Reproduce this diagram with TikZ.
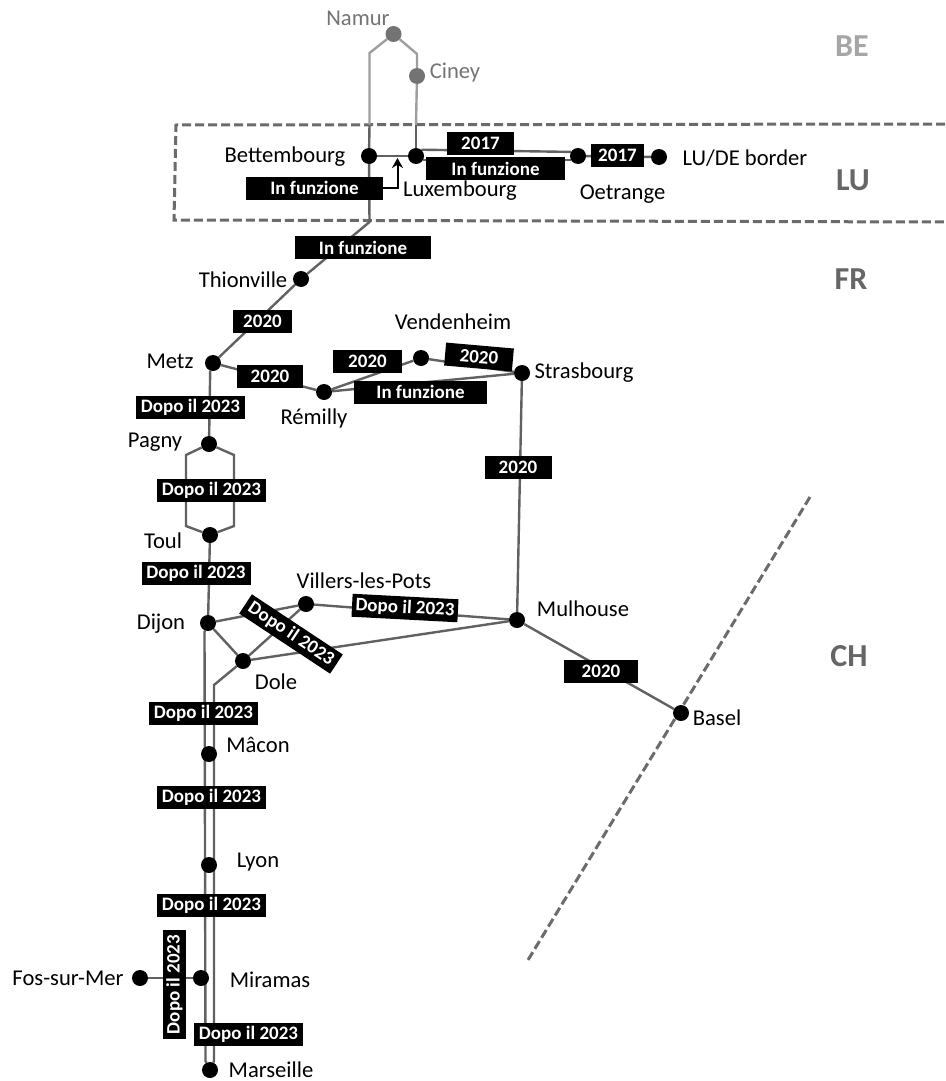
\documentclass[tikz,border=0pt]{standalone}
\usepackage{fontspec}
\setmainfont{Carlito}
\usetikzlibrary{arrows.meta,backgrounds}
\tikzset{
  stop/.style={circle,fill=black,inner sep=0pt,minimum size=16pt},
  stopbe/.style={circle,fill=black!55,inner sep=0pt,minimum size=16pt},
  track/.style={draw=black!62,line width=2.4pt},
  trackbe/.style={draw=black!38,line width=2.4pt},
  border/.style={draw=black!58,line width=3pt,dash pattern=on 9pt off 4pt},
  tag/.style={fill=black,text=white,font=\fontsize{19}{21}\selectfont\bfseries,inner sep=0pt,minimum height=23pt},
  tagdopo/.style={tag,minimum width=109pt},
  place/.style={font=\fontsize{22.6}{24}\selectfont,inner sep=0pt,yshift=-1.5pt},
  placebe/.style={place,text=black!55},
  country/.style={font=\fontsize{32}{34}\selectfont\bfseries,text=black!60,inner sep=0pt}
}
\begin{document}
\begin{tikzpicture}[x=1pt,y=-1pt]
\useasboundingbox (0,0) rectangle (945,1081);
% stops
\node[stopbe] (namur) at (393.5,34) {};
\node[stopbe] (ciney) at (417,76) {};
\node[stop] (bett) at (369,156) {};
\node[stop] (luxe) at (416,156) {};
\node[stop] (oetr) at (578,156) {};
\node[stop] (lude) at (659,157) {};
\node[stop] (thio) at (301,279) {};
\node[stop] (metz) at (213,363) {};
\node[stop] (remi) at (324,392) {};
\node[stop] (vend) at (421,358) {};
\node[stop] (stra) at (522,373) {};
\node[stop] (pagn) at (209,444) {};
\node[stop] (toul) at (210,535) {};
\node[stop] (dijo) at (208,623) {};
\node[stop] (vill) at (306,604) {};
\node[stop] (dole) at (243,661) {};
\node[stop] (mulh) at (517,620) {};
\node[stop] (base) at (681,713) {};
\node[stop] (maco) at (209,754) {};
\node[stop] (lyon) at (209,865) {};
\node[stop] (mira) at (201,978) {};
\node[stop] (fosm) at (140,978) {};
\node[stop] (mars) at (210,1070) {};
% bends of the lines
\coordinate (nl) at (369.5,53);
\coordinate (nr) at (417,54);
\coordinate (bl) at (369.5,125);
\coordinate (br) at (416,125);
\coordinate (bs) at (369.5,222);
\coordinate (pl) at (186,455);
\coordinate (pr) at (234,455);
\coordinate (tl) at (186,526);
\coordinate (tr) at (234,526);
\coordinate (dj) at (204.5,632);
\coordinate (dk) at (205.5,1061);
\coordinate (do) at (214,685);
\coordinate (dm) at (214,1061);
\coordinate (luxt) at (397.5,158);
\begin{scope}[on background layer]
% country borders
\draw[border] (945,124) -- (176,125) -- (174,220) -- (945,222);
\draw[border] (810,497) -- (528,960);
% lines
\draw[trackbe] (namur) -- (nl) -- (bl);
\draw[trackbe] (namur) -- (nr) -- (ciney);
\draw[trackbe] (ciney) -- (br);
\draw[track] (bl) -- (bett);
\draw[track] (br) -- (luxe);
\draw[track] (bett) -- (luxe);
\draw[track] (luxe.50) -- (oetr.150);
\draw[track] (luxe.-30) -- (oetr.-150);
\draw[track] (oetr) -- (lude);
\draw[track] (bett) -- (bs) -- (thio);
\draw[track] (thio) -- (metz);
\draw[track] (metz) -- (remi);
\draw[track] (remi) -- (vend);
\draw[track] (vend) -- (stra);
\draw[track] (remi) -- (stra);
\draw[track] (stra) -- (mulh);
\draw[track] (metz.-110) -- (pagn);
\draw[track] (pagn) -- (pl) -- (tl) -- (toul);
\draw[track] (pagn) -- (pr) -- (tr) -- (toul);
\draw[track] (toul) -- (dijo);
\draw[track] (dijo) -- (vill);
\draw[track] (dijo) -- (dole);
\draw[track] (dole) -- (vill);
\draw[track] (dole) -- (mulh);
\draw[track] (vill) -- (mulh);
\draw[track] (mulh) -- (base);
\draw[track] (dijo) -- (dj) -- (dk) -- (mars);
\draw[track] (dole) -- (do) -- (dm) -- (mars);
\draw[track] (fosm) -- (mira);
\end{scope}
% state of each section
\node[tag,minimum width=137pt] (t1) at (314.5,188) {In funzione};
\node[tag,minimum width=139pt] (t2) at (495.5,168.5) {In funzione};
\node[tag,minimum width=67pt] (t3) at (480.5,143.5) {2017};
\node[tag,minimum width=53pt] (t4) at (617.5,155.5) {2017};
\node[tag,minimum width=136pt] (t5) at (363,247.5) {In funzione};
\node[tag,minimum width=59pt] (t6) at (262.5,321) {2020};
\node[tag,minimum width=66pt] (t7) at (270,376.5) {2020};
\node[tag,minimum width=69pt] (t8) at (367.5,361.5) {2020};
\node[tag,minimum width=68pt,rotate=-5] (t9) at (479,357) {2020};
\node[tag,minimum width=133pt] (t10) at (420.5,392) {In funzione};
\node[tag,minimum width=67pt] (t11) at (518,467) {2020};
\node[tag,minimum width=74pt] (t12) at (601,671.5) {2020};
\node[tagdopo] (d1) at (190.5,407) {Dopo il 2023};
\node[tagdopo] (d2) at (211.5,490) {Dopo il 2023};
\node[tagdopo] (d3) at (196,573.5) {Dopo il 2023};
\node[tagdopo,rotate=-33.5] (d4) at (291,634) {Dopo il 2023};
\node[tagdopo,minimum width=106pt,rotate=-3] (d5) at (405,608) {Dopo il 2023};
\node[tagdopo] (d6) at (203.5,713.5) {Dopo il 2023};
\node[tagdopo] (d7) at (211.5,797.5) {Dopo il 2023};
\node[tagdopo] (d8) at (211.5,905) {Dopo il 2023};
\node[tagdopo,rotate=90] (d9) at (174.5,984.5) {Dopo il 2023};
\node[tagdopo] (d10) at (248.5,1034.5) {Dopo il 2023};
\draw[-{Stealth[length=10pt,width=11pt]},draw=black,line width=2pt] (t1.east) -| (luxt);
% places
\node[placebe] (lnamur) at (358,17) {Namur};
\node[placebe] (lciney) at (455,71) {Ciney};
\node[place] (lbett) at (285,155) {Bettembourg};
\node[place] (lluxe) at (460,189) {Luxembourg};
\node[place] (loetr) at (622.5,193) {Oetrange};
\node[place] (llude) at (745,157) {LU/DE border};
\node[place] (lthio) at (243,278) {Thionville};
\node[place] (lmetz) at (170,360) {Metz};
\node[place] (lremi) at (314,417) {Rémilly};
\node[place] (lvend) at (453,320) {Vendenheim};
\node[place] (lstra) at (584,371) {Strasbourg};
\node[place] (lpagn) at (155,441) {Pagny};
\node[place] (ltoul) at (163,539) {Toul};
\node[place] (lvill) at (364,579) {Villers-les-Pots};
\node[place] (ldijo) at (161,622) {Dijon};
\node[place] (ldole) at (276,680) {Dole};
\node[place] (lmulh) at (583,607) {Mulhouse};
\node[place] (lbase) at (717,716) {Basel};
\node[place] (lmaco) at (258,743) {Mâcon};
\node[place] (llyon) at (258,861) {Lyon};
\node[place] (lmira) at (270,978) {Miramas};
\node[place] (lfosm) at (68,977) {Fos-sur-Mer};
\node[place] (lmars) at (271,1068) {Marseille};
% countries
\node[country,text=black!35] (be) at (852,46) {BE};
\node[country] (lu) at (853,180) {LU};
\node[country] (fr) at (851,279) {FR};
\node[country] (ch) at (849,656) {CH};
\end{tikzpicture}
\end{document}
